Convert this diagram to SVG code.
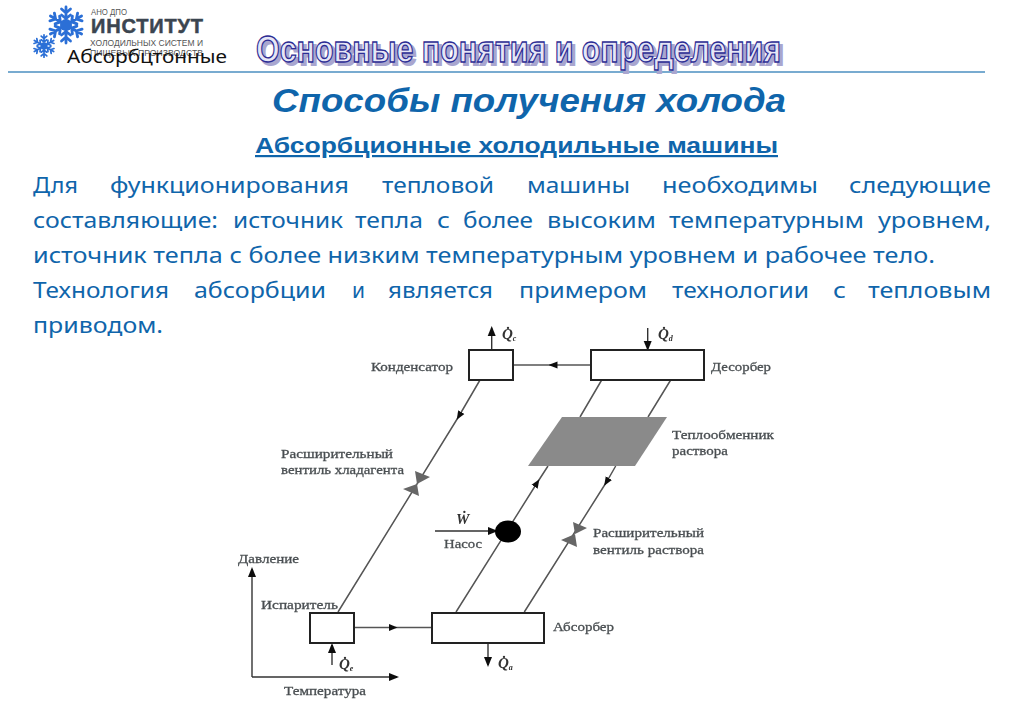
<svg xmlns="http://www.w3.org/2000/svg" xmlns:xlink="http://www.w3.org/1999/xlink" width="1024" height="708" viewBox="0 0 1024 708">
<style>
.body{font-family:"Noto Sans","Open Sans",sans-serif;font-size:22.500px;fill:#0f65ab}
.lab{font-family:"Liberation Serif",serif;font-size:13px;fill:#4a4f52;stroke:#4a4f52;stroke-width:.3}
.q{font-family:"Liberation Serif",serif;font-size:15px;font-style:italic;font-weight:bold;fill:#333}
.q tspan{font-size:8px}
.box{fill:#fff;stroke:#222;stroke-width:2}
.con{fill:none;stroke:#555;stroke-width:1.500}
.flow{fill:none;stroke:#333;stroke-width:1.400}
.valve{fill:#666}
.fl{stroke:#2b6fd6;stroke-width:2.800;fill:none;stroke-linecap:round}
</style>
<defs>
<marker id="head" viewBox="0 0 10 10" refX="8" refY="5" markerWidth="10" markerHeight="10" markerUnits="userSpaceOnUse" orient="auto"><path d="M0 1L10 5L0 9Z" fill="#111"/></marker>
<marker id="mid" viewBox="0 0 10 10" refX="5" refY="5" markerWidth="9" markerHeight="9" markerUnits="userSpaceOnUse" orient="auto"><path d="M0 1L10 5L0 9Z" fill="#111"/></marker>
<filter id="soft" x="-5%" y="-5%" width="110%" height="110%"><feGaussianBlur stdDeviation="0.35"/></filter>
<g id="arm"><path d="M0 0V-18M-4.500 -16L0 -12L4.500 -16M-4.500 -10L0 -6.500L4.500 -10"/></g>
<g id="flake"><use xlink:href="#arm"/><use xlink:href="#arm" transform="rotate(60)"/><use xlink:href="#arm" transform="rotate(120)"/><use xlink:href="#arm" transform="rotate(180)"/><use xlink:href="#arm" transform="rotate(240)"/><use xlink:href="#arm" transform="rotate(300)"/><circle r="6" fill="#2b6fd6" stroke="none"/></g>
</defs>
<rect width="1024" height="708" fill="#fff"/>
<g id="logo">
<use xlink:href="#flake" class="fl" transform="translate(66 25)"/>
<use xlink:href="#flake" class="fl" transform="translate(44 46) scale(.62)"/>
<text x="91" y="15" font-family="Liberation Sans,sans-serif" font-size="8.500" fill="#555" textLength="36" lengthAdjust="spacingAndGlyphs">АНО ДПО</text>
<text x="91" y="33" font-family="Liberation Sans,sans-serif" font-size="20" font-weight="bold" fill="#3b4550" stroke="#3b4550" stroke-width=".5" textLength="112" lengthAdjust="spacing">ИНСТИТУТ</text>
<text x="90" y="46" font-family="Liberation Sans,sans-serif" font-size="9" fill="#555" textLength="113" lengthAdjust="spacingAndGlyphs">ХОЛОДИЛЬНЫХ СИСТЕМ И</text>
<text x="90" y="56" font-family="Liberation Sans,sans-serif" font-size="9" fill="#555" textLength="113" lengthAdjust="spacingAndGlyphs">ПИЩЕВЫХ ПРОИЗВОДСТВ</text>
<text x="67" y="63" font-family="Noto Sans,sans-serif" font-size="17.500" fill="#111" textLength="160" lengthAdjust="spacingAndGlyphs">Абсорбцтонные</text>
</g>
<line id="rule" x1="8" y1="72" x2="985" y2="72" stroke="#4b8fc0" stroke-width="1.600"/>
<g id="title" font-family="Liberation Sans,sans-serif" font-size="36" font-weight="bold">
<text x="259" y="65" fill="#a9a6cf" stroke="#a9a6cf" stroke-width="2" textLength="525" lengthAdjust="spacingAndGlyphs">Основные понятия и определения</text>
<text x="256" y="62" fill="#e6e6f6" stroke="#2c2c94" stroke-width="1.300" textLength="525" lengthAdjust="spacingAndGlyphs">Основные понятия и определения</text>
</g>
<text id="h1" x="272" y="112" font-family="Liberation Sans,sans-serif" font-size="34" font-weight="bold" font-style="italic" fill="#0f65ab" textLength="514" lengthAdjust="spacingAndGlyphs">Способы получения холода</text>
<text id="h2" x="255" y="153" font-family="Liberation Sans,sans-serif" font-size="22" font-weight="bold" fill="#0f65ab" text-decoration="underline" textLength="523" lengthAdjust="spacingAndGlyphs">Абсорбционные холодильные машины</text>
<g id="body" class="body">
<text x="33" y="193" textLength="45" lengthAdjust="spacingAndGlyphs">Для</text>
<text x="110" y="193" textLength="239" lengthAdjust="spacingAndGlyphs">функционирования</text>
<text x="382" y="193" textLength="112" lengthAdjust="spacingAndGlyphs">тепловой</text>
<text x="527" y="193" textLength="103" lengthAdjust="spacingAndGlyphs">машины</text>
<text x="662" y="193" textLength="156" lengthAdjust="spacingAndGlyphs">необходимы</text>
<text x="849" y="193" textLength="142" lengthAdjust="spacingAndGlyphs">следующие</text>
<text x="33" y="228" textLength="185" lengthAdjust="spacingAndGlyphs">составляющие:</text>
<text x="233" y="228" textLength="110" lengthAdjust="spacingAndGlyphs">источник</text>
<text x="355" y="228" textLength="68" lengthAdjust="spacingAndGlyphs">тепла</text>
<text x="437" y="228" textLength="13" lengthAdjust="spacingAndGlyphs">с</text>
<text x="463" y="228" textLength="70" lengthAdjust="spacingAndGlyphs">более</text>
<text x="547" y="228" textLength="109" lengthAdjust="spacingAndGlyphs">высоким</text>
<text x="669" y="228" textLength="195" lengthAdjust="spacingAndGlyphs">температурным</text>
<text x="878" y="228" textLength="113" lengthAdjust="spacingAndGlyphs">уровнем,</text>
<text x="33" y="263" textLength="902" lengthAdjust="spacingAndGlyphs">источник тепла с более низким температурным уровнем и рабочее тело.</text>
<text x="33" y="298" textLength="136" lengthAdjust="spacingAndGlyphs">Технология</text>
<text x="194" y="298" textLength="132" lengthAdjust="spacingAndGlyphs">абсорбции</text>
<text x="352" y="298" textLength="13" lengthAdjust="spacingAndGlyphs">и</text>
<text x="388" y="298" textLength="105" lengthAdjust="spacingAndGlyphs">является</text>
<text x="519" y="298" textLength="128" lengthAdjust="spacingAndGlyphs">примером</text>
<text x="672" y="298" textLength="137" lengthAdjust="spacingAndGlyphs">технологии</text>
<text x="833" y="298" textLength="13" lengthAdjust="spacingAndGlyphs">с</text>
<text x="868" y="298" textLength="123" lengthAdjust="spacingAndGlyphs">тепловым</text>
<text x="33" y="333" textLength="130" lengthAdjust="spacingAndGlyphs">приводом.</text>
</g>
<g id="diagram" filter="url(#soft)">
<g id="connectors">
<path class="con" marker-mid="url(#mid)" d="M591 365L553 365L513 365"/>
<path class="con" marker-mid="url(#mid)" d="M480 380L459 416L338 612"/>
<path class="con" d="M601.700 380L580 417M670.700 380L648 417"/>
<path class="con" marker-mid="url(#mid)" d="M456 612L537 483L548 466"/>
<path class="con" marker-mid="url(#mid)" d="M615.700 466L606.500 482L524.300 612"/>
<path class="con" marker-mid="url(#mid)" d="M354 627.500L393 627.500L432 627.500"/>
<path class="flow" marker-end="url(#head)" d="M491.700 349L491.700 328"/>
<path class="flow" marker-end="url(#head)" d="M647.700 328L647.700 349"/>
<path class="flow" marker-end="url(#head)" d="M332 665L332 645"/>
<path class="flow" marker-end="url(#head)" d="M488 644L488 665"/>
<path class="flow" marker-end="url(#head)" d="M435 531L496 531"/>
<path class="flow" marker-end="url(#head)" d="M252 677L252 569"/>
<path class="flow" marker-end="url(#head)" d="M252 677L397 677"/>
</g>
<g id="condenser"><rect class="box" x="469" y="350" width="44" height="30"/><text class="lab" x="371" y="371" textLength="82" lengthAdjust="spacingAndGlyphs">Конденсатор</text><text class="q" x="502" y="339">Q̇<tspan dy="2">c</tspan></text></g>
<g id="desorber"><rect class="box" x="591" y="350" width="113" height="30"/><text class="lab" x="711" y="371" textLength="60" lengthAdjust="spacingAndGlyphs">Десорбер</text><text class="q" x="658" y="339">Q̇<tspan dy="2">d</tspan></text></g>
<g id="exchanger"><path d="M562 417H667L635 466H528Z" fill="#8a8a8a"/><text class="lab" x="672" y="439" textLength="102" lengthAdjust="spacingAndGlyphs">Теплообменник</text><text class="lab" x="672" y="455" textLength="56" lengthAdjust="spacingAndGlyphs">раствора</text></g>
<g id="valve-refrigerant"><path class="valve" d="M415 471L430 477L417 484ZM403 489L419 496L417 484Z"/><text class="lab" x="281" y="458" textLength="112" lengthAdjust="spacingAndGlyphs">Расширительный</text><text class="lab" x="281" y="474" textLength="123" lengthAdjust="spacingAndGlyphs">вентиль хладагента</text></g>
<g id="valve-solution"><path class="valve" d="M573 522L587 528L575 534ZM561 540L577 547L575 534Z"/><text class="lab" x="593" y="537" textLength="111" lengthAdjust="spacingAndGlyphs">Расширительный</text><text class="lab" x="593" y="554" textLength="111" lengthAdjust="spacingAndGlyphs">вентиль раствора</text></g>
<g id="pump"><ellipse cx="508" cy="531.500" rx="13" ry="11" fill="#000"/><text class="lab" x="444" y="548" textLength="38" lengthAdjust="spacingAndGlyphs">Насос</text><text class="q" x="456" y="524">Ẇ</text></g>
<g id="evaporator"><rect class="box" x="310" y="613" width="44" height="30"/><text class="lab" x="261" y="609" textLength="77" lengthAdjust="spacingAndGlyphs">Испаритель</text><text class="q" x="339" y="669">Q̇<tspan dy="2">e</tspan></text></g>
<g id="absorber"><rect class="box" x="432" y="613" width="112" height="30"/><text class="lab" x="553" y="631" textLength="61" lengthAdjust="spacingAndGlyphs">Абсорбер</text><text class="q" x="498" y="668">Q̇<tspan dy="2">a</tspan></text></g>
<g id="axes"><text class="lab" x="238" y="563" textLength="61" lengthAdjust="spacingAndGlyphs">Давление</text><text class="lab" x="284" y="695" textLength="82" lengthAdjust="spacingAndGlyphs">Температура</text></g>
</g>
</svg>
